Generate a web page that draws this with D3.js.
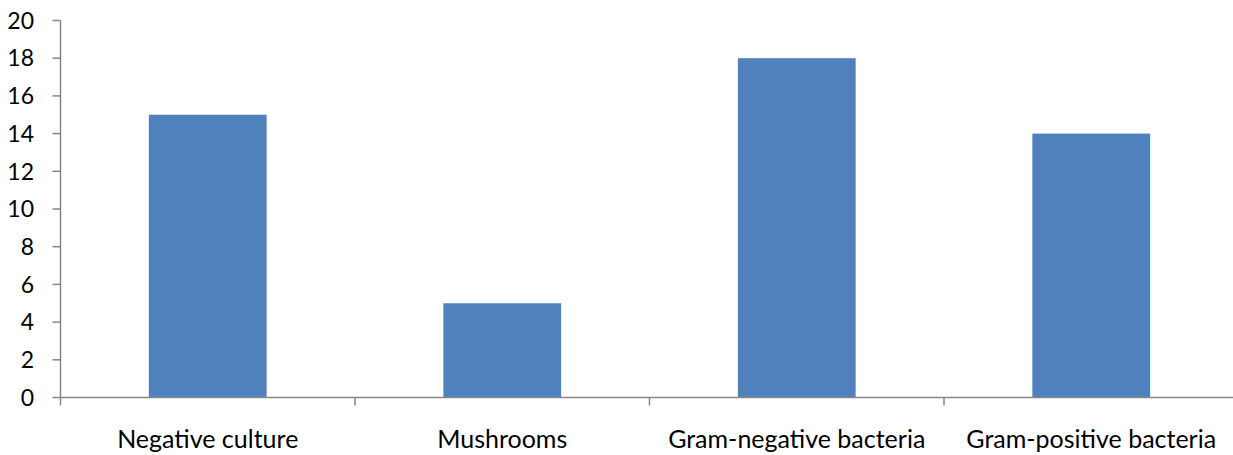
<!DOCTYPE html>
<html><head><meta charset="utf-8">
<script src="https://cdn.jsdelivr.net/npm/d3@7"></script>
<style>body{margin:0;background:#fff}svg{display:block}text{font-family:Lato,"Open Sans",sans-serif;fill:#000}</style>
</head><body><svg id="c" width="1233" height="455"></svg>
<script>
const categories = ["Negative culture","Mushrooms","Gram-negative bacteria","Gram-positive bacteria"];
const values = [15,5,18,14];
const yTicks = [0,2,4,6,8,10,12,14,16,18,20];

const svg = d3.select("#c");
const x0 = 60.5, x1 = 1238.5, yTop = 20.5, yBot = 397.5;
const x = d3.scaleBand().domain(categories).range([x0,x1]).padding(0);
const y = d3.scaleLinear().domain([0,20]).range([yBot,yTop]);
const bw = x.bandwidth()*0.4;

svg.selectAll("rect.bar").data(categories).join("rect")
  .attr("x",(d)=>x(d)+x.bandwidth()/2-bw/2)
  .attr("y",(d,i)=>y(values[i]))
  .attr("width",bw)
  .attr("height",(d,i)=>y(0)-y(values[i]))
  .attr("fill","#4F81BD");

const stroke="#868686";
// y axis
svg.append("line").attr("x1",x0).attr("x2",x0).attr("y1",yTop).attr("y2",yBot).attr("stroke",stroke).attr("stroke-width",1.5);
svg.selectAll("line.yt").data(yTicks).join("line")
  .attr("x1",x0-8).attr("x2",x0).attr("y1",d=>y(d)).attr("y2",d=>y(d)).attr("stroke",stroke).attr("stroke-width",1.5);
svg.selectAll("text.yl").data(yTicks).join("text")
  .attr("x",34).attr("y",d=>y(d)).attr("dy","0.36em").attr("text-anchor","end")
  .attr("font-size",23).text(d=>d);
// x axis
svg.append("line").attr("x1",x0).attr("x2",x1).attr("y1",yBot).attr("y2",yBot).attr("stroke",stroke).attr("stroke-width",1.5);
const bounds = categories.map(c=>x(c)).concat([x1]);
svg.selectAll("line.xt").data(bounds).join("line")
  .attr("x1",d=>d).attr("x2",d=>d).attr("y1",yBot).attr("y2",yBot+8).attr("stroke",stroke).attr("stroke-width",1.5);
svg.selectAll("text.xl").data(categories).join("text")
  .attr("x",d=>x(d)+x.bandwidth()/2).attr("y",448).attr("text-anchor","middle")
  .attr("font-size",25).text(d=>d);
</script></body></html>
